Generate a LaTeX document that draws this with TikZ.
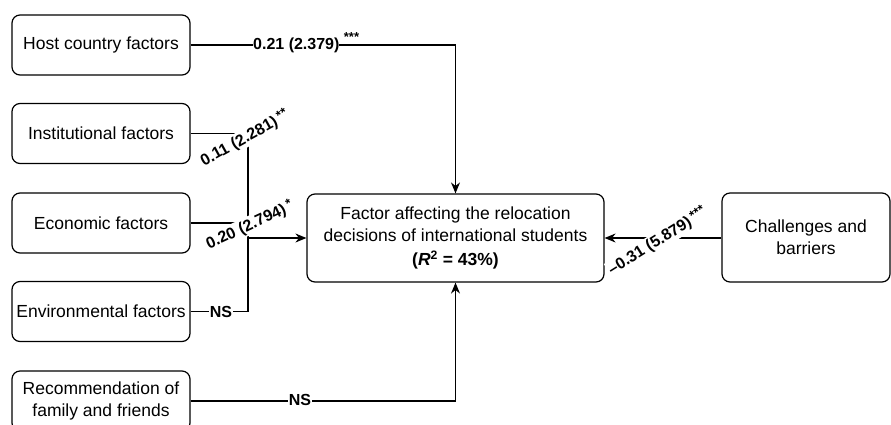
\documentclass[tikz,border=0pt]{standalone}
\usepackage{fontspec}
\setmainfont{Liberation Sans}
\usetikzlibrary{arrows.meta}
\tikzset{
  box/.style={draw, rounded corners=8pt, line width=1.2pt, align=center,
    inner sep=0pt, font=\fontsize{17.5}{22}\selectfont},
  leftbox/.style={box, minimum width=178pt, minimum height=60pt},
  conn/.style={line width=1.2pt},
  arr/.style={conn, -{Stealth[length=11pt,width=9pt]}},
  lab/.style={font=\bfseries\fontsize{16}{18}\selectfont, fill=white, inner sep=1pt},
  stars/.style={font=\bfseries\fontsize{13}{13}\selectfont, inner sep=0pt}
}
\newcommand{\stz}[1]{\raisebox{4pt}{\fontsize{13}{13}\selectfont #1}}
\begin{document}
\begin{tikzpicture}[x=1pt,y=-1pt]
\useasboundingbox (0,0) rectangle (891,424);
\clip (0,0) rectangle (891,424);
\fill[white] (0,0) rectangle (891,424);

\node[leftbox] (host) at (101,45) {Host country factors};
\node[leftbox] (inst) at (101,133.5) {Institutional factors};
\node[leftbox] (econ) at (101,223) {Economic factors};
\node[leftbox] (env)  at (101,311.5) {Environmental factors};
\node[leftbox] (rec)  at (101,401) {Recommendation of\\family and friends};
\node[box, minimum width=297pt, minimum height=88pt] (dv) at (455.5,238)
  {Factor affecting the relocation\\decisions of international students\\[2pt]
   \textbf{(\textit{R}\textsuperscript{2} = 43\%)}};
\node[box, minimum width=168pt, minimum height=89pt] (chal) at (806,237.5)
  {Challenges and\\barriers};

\coordinate (hc) at (dv.north |- host.east);
\coordinate (bt) at (248,133.5);
\coordinate (bm) at (248,238);
\coordinate (bb) at (248,311.5);
\coordinate (rc) at (dv.south |- rec.east);

% host
\draw[conn] (host.east) -- (hc);
\draw[arr] (hc) -- (dv.north);
\node[lab, anchor=west, inner sep=0pt] (l1) at (253,45) {0.21 (2.379)};
\node[stars, anchor=south west] (s1) at ([xshift=4pt,yshift=-4pt]l1.north east) {***};

% bus
\draw[conn] (inst.east) -- (bt) -- (bb);
\draw[conn] (econ.east) -- (econ.east -| bt);
\draw[conn] (env.east) -- (bb);
\draw[arr] (bm) -- (dv.west);
\node[lab, rotate=29, anchor=base west] (l2) at (203,167)
  {0.11 (2.281)\,\stz{**}};
\node[lab, rotate=25, anchor=base west] (l3) at (208,250)
  {0.20 (2.794)\,\stz{*}};
\node[lab] (l4) at (221,311.5) {NS};

% recommendation
\draw[conn] (rec.east) -- (rc);
\draw[arr] (rc) -- (dv.south);
\node[lab] (l5) at (300,400) {NS};

% challenges
\draw[arr] (chal.west |- dv.east) -- (dv.east);
\node[lab, rotate=32, anchor=base west] (l6) at (611,276)
  {–0.31 (5.879)\,\stz{***}};
\end{tikzpicture}
\end{document}
